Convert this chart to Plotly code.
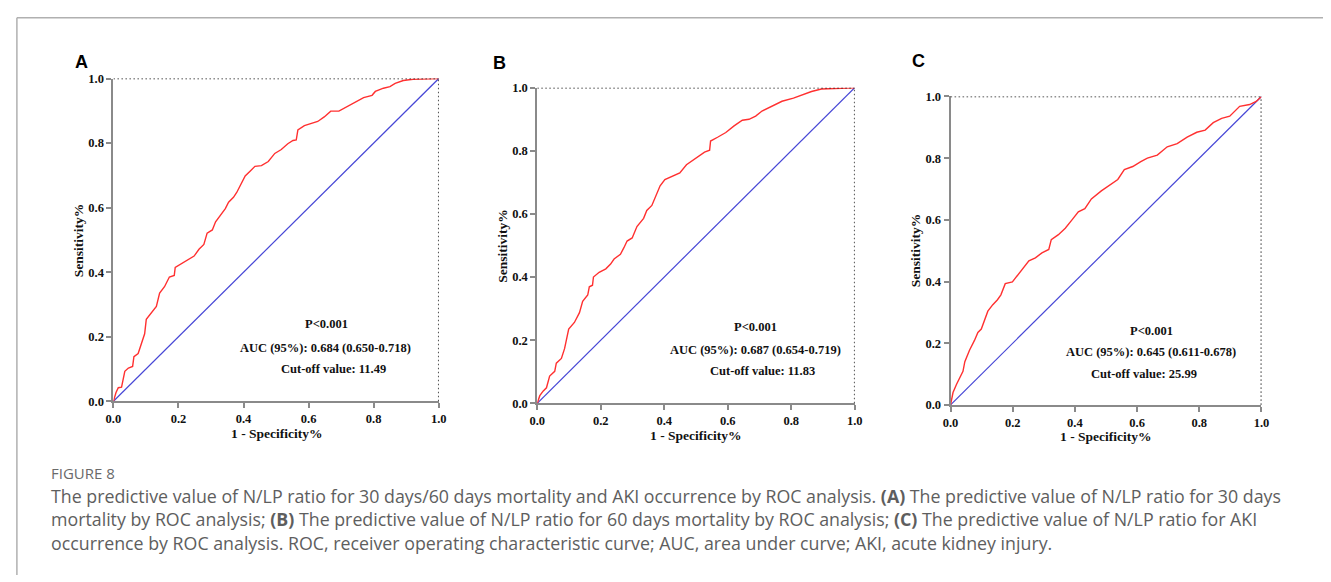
import plotly.graph_objects as go

W, H = 1331, 582

# ---------------- data ----------------
fpr_a = [0.0, 0.008, 0.015, 0.025, 0.035, 0.046, 0.059, 0.063, 0.076, 0.086, 0.096, 0.101, 0.116, 0.132,
         0.142, 0.157, 0.172, 0.187, 0.190, 0.207, 0.223, 0.233, 0.248, 0.263, 0.278, 0.288, 0.304, 0.314,
         0.329, 0.344, 0.354, 0.369, 0.379, 0.390, 0.405, 0.420, 0.435, 0.455, 0.476, 0.496, 0.516, 0.536,
         0.552, 0.562, 0.567, 0.587, 0.607, 0.628, 0.648, 0.668, 0.693, 0.719, 0.744, 0.769, 0.795, 0.805,
         0.830, 0.850, 0.866, 0.891, 0.921, 0.962, 1.0]
tpr_a = [0.0, 0.027, 0.042, 0.044, 0.093, 0.103, 0.108, 0.138, 0.148, 0.178, 0.209, 0.254, 0.274, 0.294,
         0.335, 0.355, 0.385, 0.390, 0.415, 0.425, 0.435, 0.440, 0.450, 0.471, 0.486, 0.521, 0.531, 0.556,
         0.577, 0.597, 0.617, 0.632, 0.647, 0.667, 0.698, 0.713, 0.728, 0.730, 0.743, 0.768, 0.780, 0.798,
         0.808, 0.810, 0.841, 0.854, 0.861, 0.867, 0.881, 0.899, 0.899, 0.914, 0.929, 0.941, 0.948, 0.960,
         0.970, 0.975, 0.985, 0.994, 0.998, 1.0, 1.0]

fpr_b = [0.0, 0.008, 0.019, 0.029, 0.039, 0.055, 0.060, 0.076, 0.086, 0.099, 0.117, 0.133, 0.143, 0.159,
         0.164, 0.174, 0.177, 0.195, 0.216, 0.231, 0.242, 0.262, 0.273, 0.283, 0.299, 0.314, 0.335, 0.345,
         0.361, 0.371, 0.387, 0.402, 0.423, 0.449, 0.470, 0.491, 0.511, 0.527, 0.543, 0.546, 0.568, 0.594,
         0.620, 0.646, 0.667, 0.688, 0.708, 0.740, 0.771, 0.807, 0.833, 0.864, 0.895, 0.946, 1.0]
tpr_b = [0.0, 0.024, 0.039, 0.049, 0.086, 0.101, 0.127, 0.142, 0.173, 0.235, 0.256, 0.287, 0.323, 0.343,
         0.369, 0.374, 0.400, 0.415, 0.426, 0.441, 0.457, 0.472, 0.493, 0.514, 0.524, 0.560, 0.586, 0.611,
         0.627, 0.653, 0.689, 0.709, 0.719, 0.730, 0.756, 0.771, 0.786, 0.796, 0.802, 0.831, 0.843, 0.858,
         0.879, 0.897, 0.900, 0.910, 0.926, 0.941, 0.957, 0.967, 0.977, 0.988, 0.996, 0.998, 1.0]

fpr_c = [0.0, 0.003, 0.008, 0.019, 0.030, 0.040, 0.046, 0.061, 0.077, 0.088, 0.099, 0.109, 0.120, 0.136,
         0.151, 0.162, 0.176, 0.199, 0.215, 0.236, 0.252, 0.273, 0.294, 0.316, 0.324, 0.347, 0.369, 0.390,
         0.411, 0.432, 0.453, 0.485, 0.517, 0.538, 0.559, 0.586, 0.612, 0.633, 0.665, 0.697, 0.729, 0.761,
         0.792, 0.819, 0.845, 0.872, 0.898, 0.930, 0.962, 0.983, 1.0]
tpr_c = [0.0, 0.014, 0.040, 0.066, 0.088, 0.109, 0.140, 0.177, 0.209, 0.235, 0.246, 0.272, 0.304, 0.325,
         0.341, 0.357, 0.393, 0.399, 0.420, 0.446, 0.467, 0.477, 0.493, 0.504, 0.536, 0.552, 0.573, 0.599,
         0.626, 0.636, 0.668, 0.694, 0.715, 0.731, 0.763, 0.773, 0.789, 0.800, 0.810, 0.837, 0.847, 0.868,
         0.884, 0.891, 0.915, 0.929, 0.936, 0.968, 0.974, 0.984, 1.0]

ref_x = [0.0, 1.0]
ref_y = [0.0, 1.0]

tick_vals = [0.0, 0.2, 0.4, 0.6, 0.8, 1.0]
tick_text = ["0.0", "0.2", "0.4", "0.6", "0.8", "1.0"]

panel_labels = ["A", "B", "C"]
p_texts = ["P&lt;0.001", "P&lt;0.001", "P&lt;0.001"]
auc_texts = ["AUC (95%): 0.684 (0.650-0.718)",
             "AUC (95%): 0.687 (0.654-0.719)",
             "AUC (95%): 0.645 (0.611-0.678)"]
cutoff_texts = ["Cut-off value: 11.49", "Cut-off value: 11.83", "Cut-off value: 25.99"]
x_title = "1 - Specificity%"
y_title = "Sensitivity%"

caption_head = "FIGURE 8"
caption_lines = [
    "The predictive value of N/LP ratio for 30 days/60 days mortality and AKI occurrence by ROC analysis. <b>(A)</b> The predictive value of N/LP ratio for 30 days",
    "mortality by ROC analysis; <b>(B)</b> The predictive value of N/LP ratio for 60 days mortality by ROC analysis; <b>(C)</b> The predictive value of N/LP ratio for AKI",
    "occurrence by ROC analysis. ROC, receiver operating characteristic curve; AUC, area under curve; AKI, acute kidney injury.",
]

# ---------------- layout constants ----------------
curves = [(fpr_a, tpr_a), (fpr_b, tpr_b), (fpr_c, tpr_c)]
# plot boxes in pixels: left, right, top, bottom
boxes = [(106.7, 436.0, 73.3, 404.0), (535.7, 857.0, 82.7, 406.0), (954.0, 1268.7, 91.7, 407.7)]
stat_pos = [  # (x, y) in data units for P / AUC / cut-off lines
    [(0.656, 0.239), (0.653, 0.166), (0.676, 0.100)],
    [(0.687, 0.243), (0.686, 0.168), (0.710, 0.101)],
    [(0.645, 0.241), (0.644, 0.170), (0.622, 0.101)],
]
label_px = [(74.5, 56.7), (497.0, 57.0), (921.5, 55.5)]

SERIF = "Liberation Serif, Times New Roman, serif"
AXIS_GREY = "#8a8a8a"


def px_x(v):
    return v / W


def px_y(v):
    return 1 - v / H


fig = go.Figure()
annotations = []
shapes = []
layout_axes = {}

for i, ((fx, ty), (l, r, t, b)) in enumerate(zip(curves, boxes)):
    n = "" if i == 0 else str(i + 1)
    xa, ya = "x" + n, "y" + n
    fig.add_trace(go.Scatter(x=ref_x, y=ref_y, mode="lines", xaxis=xa, yaxis=ya,
                             line=dict(color="#4747d6", width=1.2), showlegend=False, hoverinfo="skip"))
    fig.add_trace(go.Scatter(x=fx, y=ty, mode="lines", xaxis=xa, yaxis=ya,
                             line=dict(color="#ff3030", width=1.4), showlegend=False))
    common = dict(range=[0, 1], showgrid=False, zeroline=False, showline=True, linecolor=AXIS_GREY,
                  linewidth=2, ticks="outside", ticklen=5, tickwidth=1.5, tickcolor=AXIS_GREY,
                  tickvals=tick_vals, ticktext=tick_text, fixedrange=True,
                  tickfont=dict(family=SERIF, size=12.5, color="#111", weight="bold"))
    layout_axes["xaxis" + n] = dict(common, domain=[px_x(l), px_x(r)], anchor=ya)
    layout_axes["yaxis" + n] = dict(common, domain=[px_y(b), px_y(t)], anchor=xa)

    # dotted top / right borders
    shapes.append(dict(type="line", xref=xa, yref=ya, x0=0, x1=1, y0=1, y1=1,
                       line=dict(color="#222", width=1.6, dash="1.6px,2.4px")))
    shapes.append(dict(type="line", xref=xa, yref=ya, x0=1, x1=1, y0=0, y1=1,
                       line=dict(color="#222", width=1.6, dash="1.6px,2.4px")))

    # statistics text
    for txt, (sx, sy) in zip([p_texts[i], auc_texts[i], cutoff_texts[i]], stat_pos[i]):
        annotations.append(dict(text=txt, xref=xa, yref=ya, x=sx, y=sy, showarrow=False,
                                xanchor="center", yanchor="middle",
                                font=dict(family=SERIF, size=12.5, color="#111", weight="bold")))
    # axis titles
    annotations.append(dict(text=x_title, xref=xa + " domain", yref=ya + " domain", x=0.5, y=0,
                            yshift=-32, showarrow=False, xanchor="center", yanchor="middle",
                            font=dict(family=SERIF, size=13.5, color="#111", weight="bold")))
    annotations.append(dict(text=y_title, xref=xa + " domain", yref=ya + " domain", x=0, y=0.5,
                            xshift=-35, showarrow=False, xanchor="center", yanchor="middle",
                            textangle=-90,
                            font=dict(family=SERIF, size=13.5, color="#111", weight="bold")))
    # panel label
    lx, ly = label_px[i]
    annotations.append(dict(text="<b>" + panel_labels[i] + "</b>", xref="paper", yref="paper",
                            x=px_x(lx), y=px_y(ly), showarrow=False, xanchor="center", yanchor="middle",
                            font=dict(family="Liberation Sans, Arial, sans-serif", size=18, color="#000")))

# outer frame (top and left only)
shapes.append(dict(type="line", xref="paper", yref="paper", x0=px_x(9), x1=1.0, y0=px_y(11), y1=px_y(11),
                   line=dict(color="#b0b0b0", width=1.5)))
shapes.append(dict(type="line", xref="paper", yref="paper", x0=px_x(9), x1=px_x(9), y0=0, y1=px_y(11),
                   line=dict(color="#b0b0b0", width=1.5)))

# caption
CAP_FONT = "Open Sans, Lato, sans-serif"
CAP_X = 42
annotations.append(dict(text=caption_head, xref="paper", yref="paper", x=px_x(CAP_X), y=px_y(477),
                        showarrow=False, xanchor="left", yanchor="middle",
                        font=dict(family=CAP_FONT, size=15, color="#6a6a6a")))
for k, line in enumerate(caption_lines):
    annotations.append(dict(text=line, xref="paper", yref="paper", x=px_x(CAP_X), y=px_y(501 + 24 * k),
                            showarrow=False, xanchor="left", yanchor="middle",
                            font=dict(family=CAP_FONT, size=17.8, color="#5e5e5e")))

fig.update_layout(width=W, height=H, margin=dict(l=0, r=0, t=0, b=0),
                  paper_bgcolor="white", plot_bgcolor="white",
                  annotations=annotations, shapes=shapes, showlegend=False, **layout_axes)

fig.write_html("out.html", config={"displayModeBar": False})
